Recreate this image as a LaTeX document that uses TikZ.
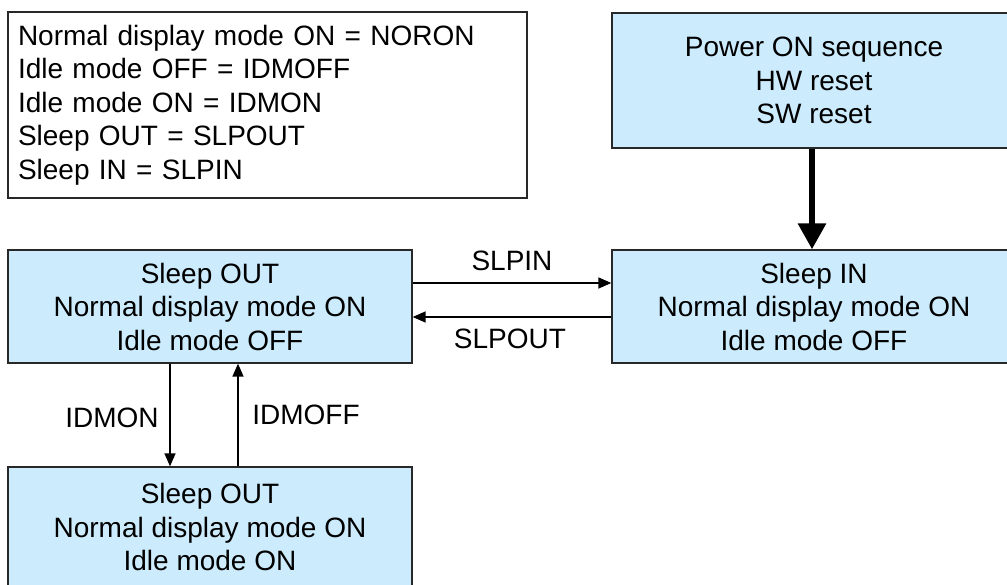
\documentclass[tikz,border=0pt]{standalone}
\usepackage{fontspec}
\setmainfont{Liberation Sans}
\usetikzlibrary{arrows.meta}
\definecolor{boxblue}{RGB}{204,235,252}
\definecolor{edge}{RGB}{40,40,40}
\begin{document}
\begin{tikzpicture}[x=1pt,y=-1pt,
  txt/.style={font=\fontsize{28}{33.5}\selectfont, text=black},
  state/.style={txt, draw=edge, fill=boxblue, line width=1.3pt, minimum width=404pt, minimum height=113pt, align=center, inner sep=0pt},
  legend/.style={txt, draw=edge, fill=white, line width=1.3pt, text width=499pt, minimum height=186pt, align=left, inner xsep=10pt, inner ysep=0pt},
  thinarrow/.style={line width=1.4pt, draw=black, -{Triangle[length=13pt,width=11pt]}},
  thickarrow/.style={line width=6pt, draw=black, -{Triangle[length=26pt,width=27pt]}},
  lbl/.style={txt, inner sep=0pt}]
\useasboundingbox (0,0) rectangle (1007,585);
\fill[white] (0,0) rectangle (1007,585);
\clip (0,0) rectangle (1007,585);

\node[legend] (leg) at (267.5,105) {Normal display mode ON = NORON\\Idle mode OFF = IDMOFF\\Idle mode ON = IDMON\\Sleep OUT = SLPOUT\\Sleep IN = SLPIN};

\node[state, minimum height=135pt] (pw) at (814,80.5) {Power ON sequence\\HW reset\\SW reset};
\node[state] (si) at (814,306.5) {Sleep IN\\Normal display mode ON\\Idle mode OFF};
\node[state] (so) at (210,306.5) {Sleep OUT\\Normal display mode ON\\Idle mode OFF};
\node[state, minimum height=120pt] (bo) at (210,527) {Sleep OUT\\Normal display mode ON\\Idle mode ON};

\draw[thickarrow] ([xshift=-2pt]pw.south) -- ([xshift=-2pt]si.north);

\draw[thinarrow] ([yshift=23.5pt]so.east) -- ([yshift=23.5pt]si.west);
\draw[thinarrow] ([yshift=-10.5pt]si.west) -- ([yshift=-10.5pt]so.east);
\node[lbl] (lslpin) at (512,261) {SLPIN};
\node[lbl] (lslpout) at (510,339) {SLPOUT};

\draw[thinarrow] ([xshift=-40pt]so.south) -- ([xshift=-40pt]bo.north);
\draw[thinarrow] ([xshift=28pt]bo.north) -- ([xshift=28pt]so.south);
\node[lbl] (lidmon) at (112,418) {IDMON};
\node[lbl] (lidmoff) at (306,415) {IDMOFF};
\end{tikzpicture}
\end{document}
